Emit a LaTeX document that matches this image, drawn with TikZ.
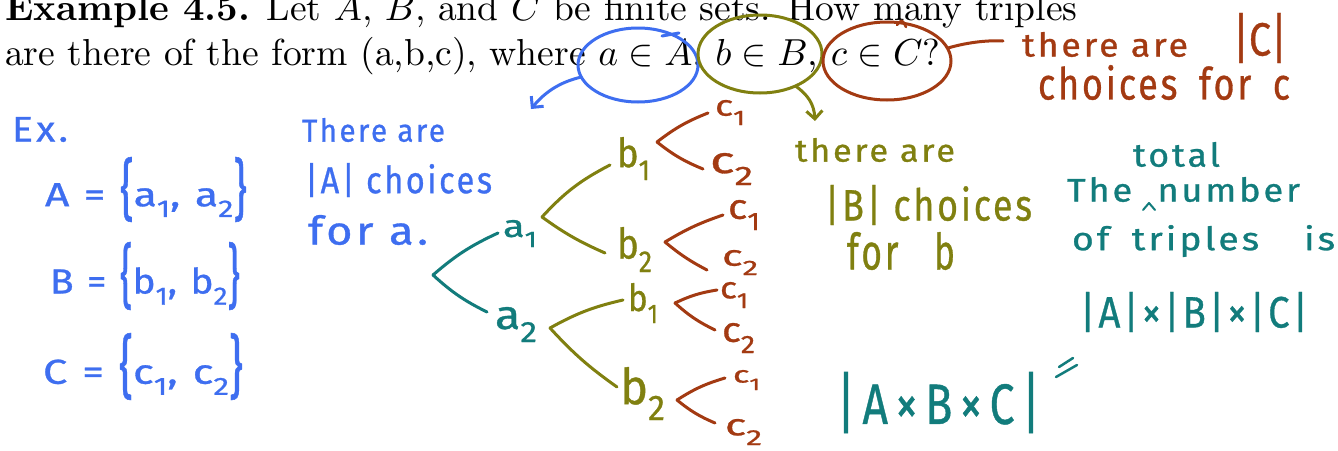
\documentclass[tikz,border=0pt]{standalone}
\usepackage{fontspec}
\usepackage{graphicx}
\usetikzlibrary{arrows.meta,shapes.geometric}
\newfontfamily\hwfont[LetterSpace=8,FakeBold=0.8]{Fira Sans}
\definecolor{hwblue}{RGB}{62,110,240}
\definecolor{hwolive}{RGB}{128,128,16}
\definecolor{hwbrown}{RGB}{163,58,18}
\definecolor{hwteal}{RGB}{18,124,124}
\newcommand{\hw}[3]{\resizebox*{#1pt}{#2pt}{\hwfont #3}}
\newcommand{\hsub}[1]{\raisebox{-0.32em}{\scalebox{0.72}{#1}}}
\newcommand{\hlb}{\raisebox{-0.2em}{\scalebox{1}[2]{\{}}}
\newcommand{\hrb}{\raisebox{-0.2em}{\scalebox{1}[2]{\}}}}
\newcommand{\hwbar}{\raisebox{-0.04em}{\scalebox{1}[1.18]{|}}}
\begin{document}
\begin{tikzpicture}[x=1pt,y=-1pt,
  hw/.style={anchor=north west, inner sep=0pt, outer sep=0pt},
  stroke/.style={line width=3pt, line cap=round, line join=round},
  ring/.style={ellipse, draw, line width=3pt, inner sep=0pt, outer sep=0pt},
  barb/.style={-{Straight Barb[length=8pt,width=16pt,line width=3pt]}}]
\fill[white] (0,0) rectangle (1338,450);
\useasboundingbox (0,0) rectangle (1338,450);

% printed text
\node[anchor=base west, inner sep=0pt] (line1) at (5,20) {\resizebox{1072pt}{!}{\textbf{Example 4.5.} Let $A$, $B$, and $C$ be finite sets. How many triples}};
\node[anchor=base west, inner sep=0pt] (line2) at (5,65) {\resizebox{935pt}{!}{are there of the form (a,b,c), where $a\in A$, $b\in B$, $c\in C$?}};

% circles around the conditions
\node[ring, hwblue, minimum width=120pt, minimum height=74pt] (ea) at (638,65) {};
\node[ring, hwolive, minimum width=124pt, minimum height=78pt] (eb) at (760,54) {};
\node[ring, hwbrown, minimum width=128pt, minimum height=78pt] (ec) at (887,61) {};
\draw[stroke, hwblue] (662,36) -- (679,33);
\draw[stroke, hwbrown, line width=2.5pt] (897,25) .. controls (902,19) .. (906,27);

\coordinate (bluetip) at (531,109);
\coordinate (olivetip) at (815,121);
\coordinate (browntip) at (1003,41);
\draw[stroke, hwblue, barb] (ea.192) .. controls (560,82) and (545,92) .. (bluetip);
\draw[stroke, hwolive, barb] (eb.-42) .. controls (808,95) and (814,104) .. (olivetip);
\draw[stroke, hwbrown] (ec.12) .. controls (965,43) and (985,40) .. (browntip);

% blue notes
\node[hw, hwblue] (ex) at (12,117) {\hw{56}{25}{Ex.}};
\node[hw, hwblue] (setA) at (45,157) {\hw{202}{65}{A = \hlb a\hsub{1}, a\hsub{2}\hrb}};
\node[hw, hwblue] (setB) at (50,242) {\hw{190}{68}{B = \hlb b\hsub{1}, b\hsub{2}\hrb}};
\node[hw, hwblue] (setC) at (43,333) {\hw{200}{67}{C = \hlb c\hsub{1}, c\hsub{2}\hrb}};
\node[hw, hwblue] (na1) at (302,118) {\hw{143}{24}{There are}};
\node[hw, hwblue] (na2) at (305,163) {\hw{187}{34}{|A| choices}};
\node[hw, hwblue] (na3) at (308,215) {\hw{120}{30}{for a.}};

% olive notes
\node[hw, hwolive] (nb1) at (795,138) {\hw{160}{24}{there are}};
\node[hw, hwolive] (nb2) at (825,185) {\hw{207}{40}{|B| choices}};
\node[hw, hwolive] (nb3) at (847,232) {\hw{108}{38}{for\hspace{1em}b}};

% brown notes
\node[hw, hwbrown] (nc1) at (1022,32) {\hw{166}{25}{there are}};
\node[hw, hwbrown] (nc2) at (1233,13) {\hw{54}{50}{\hwbar C\hwbar}};
\node[hw, hwbrown] (nc3) at (1038,65) {\hw{252}{35}{choices\hspace{0.6em}for\hspace{0.6em}c}};

% teal notes
\node[hw, hwteal] (t1) at (1133,142) {\hw{87}{25}{total}};
\node[hw, hwteal] (t2) at (1067,177) {\hw{233}{25}{The\hspace{0.7em}number}};
\draw[hwteal, line width=2pt, line cap=round, line join=round] (1143,210) -- (1149,203) -- (1155,210);
\node[hw, hwteal] (t3) at (1072,225) {\hw{263}{32}{of\hspace{0.6em}triples\hspace{1.2em}is}};
\node[hw, hwteal] (t4) at (1080,292) {\hw{228}{40}{|A|×|B|×|C|}};
\draw[stroke, hwteal, line width=2.5pt] (1059,367) -- (1073,358);
\draw[stroke, hwteal, line width=2.5pt] (1056,377) -- (1077,365);
\node[hw, hwteal] (t5) at (837,372) {\hw{203}{61}{\hwbar\,A\,×\,B\,×\,C\,\hwbar}};

% tree: level a
\coordinate (r) at (433,275);
\coordinate (ra1) at (498,233);
\coordinate (ra2) at (487,312);
\draw[stroke, hwteal] (r) to[bend left=8] (ra1);
\draw[stroke, hwteal] (r) to[bend right=8] (ra2);
\node[hw, hwteal] (a1) at (503,220) {\hw{34}{27}{a\hsub{1}}};
\node[hw, hwteal] (a2) at (495,307) {\hw{42}{35}{a\hsub{2}}};

% tree: level b
\coordinate (ja1) at (542,217);
\coordinate (ja1b1) at (610,165);
\coordinate (ja1b2) at (605,253);
\coordinate (ja2) at (550,328);
\coordinate (ja2b1) at (623,300);
\coordinate (ja2b2) at (617,387);
\draw[stroke, hwolive] (ja1) to[bend left=10] (ja1b1);
\draw[stroke, hwolive] (ja1) to[bend right=6] (ja1b2);
\draw[stroke, hwolive] (ja2) to[bend left=8] (ja2b1);
\draw[stroke, hwolive] (ja2) to[bend right=6] (ja2b2);
\node[hw, hwolive] (b11) at (617,137) {\hw{33}{43}{b\hsub{1}}};
\node[hw, hwolive] (b12) at (617,227) {\hw{35}{45}{b\hsub{2}}};
\node[hw, hwolive] (b21) at (628,283) {\hw{30}{40}{b\hsub{1}}};
\node[hw, hwolive] (b22) at (620,367) {\hw{45}{53}{b\hsub{2}}};

% tree: level c
\coordinate (j1) at (657,142);
\coordinate (j1c1) at (708,113);
\coordinate (j1c2) at (703,169);
\coordinate (j2) at (665,242);
\coordinate (j2c1) at (723,215);
\coordinate (j2c2) at (707,270);
\coordinate (j3) at (675,303);
\coordinate (j3c1) at (717,290);
\coordinate (j3c2) at (715,330);
\coordinate (j4) at (677,400);
\coordinate (j4c1) at (725,378);
\coordinate (j4c2) at (715,423);
\draw[stroke, hwbrown] (j1) to[bend left=8] (j1c1);
\draw[stroke, hwbrown] (j1) to[bend right=8] (j1c2);
\draw[stroke, hwbrown] (j2) to[bend left=6] (j2c1);
\draw[stroke, hwbrown] (j2) to[bend right=6] (j2c2);
\draw[stroke, hwbrown] (j3) to[bend left=8] (j3c1);
\draw[stroke, hwbrown] (j3) to[bend right=8] (j3c2);
\draw[stroke, hwbrown] (j4) to[bend left=8] (j4c1);
\draw[stroke, hwbrown] (j4) to[bend right=8] (j4c2);
\node[hw, hwbrown] (c11) at (715,100) {\hw{30}{25}{c\hsub{1}}};
\node[hw, hwbrown] (c12) at (710,153) {\hw{43}{32}{c\hsub{2}}};
\node[hw, hwbrown] (c21) at (728,200) {\hw{32}{30}{c\hsub{1}}};
\node[hw, hwbrown] (c22) at (722,250) {\hw{36}{25}{c\hsub{2}}};
\node[hw, hwbrown] (c31) at (720,282) {\hw{28}{26}{c\hsub{1}}};
\node[hw, hwbrown] (c32) at (722,323) {\hw{33}{30}{c\hsub{2}}};
\node[hw, hwbrown] (c41) at (733,370) {\hw{27}{20}{c\hsub{1}}};
\node[hw, hwbrown] (c42) at (725,419) {\hw{37}{26}{c\hsub{2}}};
\end{tikzpicture}
\end{document}
